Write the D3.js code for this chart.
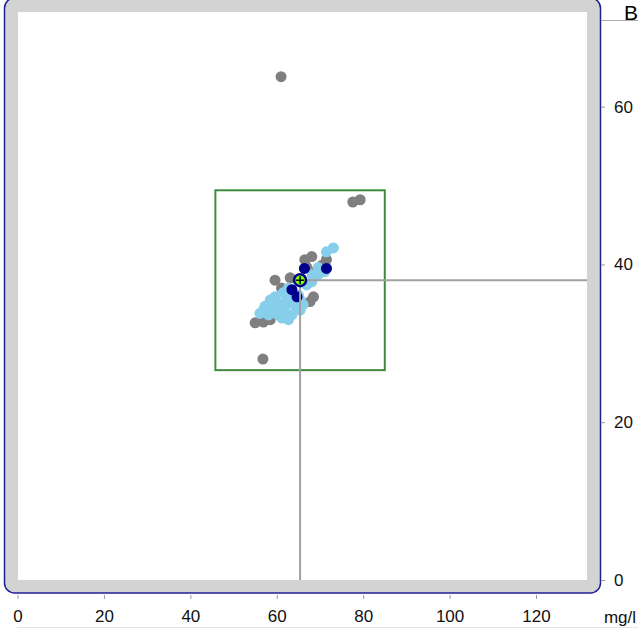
<!DOCTYPE html>
<html>
<head>
  <meta charset="UTF-8">
  <style>
    body { margin: 0; background: #fff; }
    svg { display: block; font-family: Arial, 'Liberation Sans', sans-serif; }
    .axis text { font-size: 17px; fill: #111; }
    .axis line { stroke: #999; }
  </style>
</head>
<body>
<svg></svg>
<script src="https://d3js.org/d3.v7.min.js"></script>
<script>
  let width = 638, height = 630;

  // ---- data (mg/l)
  const grayX = [61.0, 77.6, 79.3, 56.8, 55.0, 56.9, 58.5, 68.1, 71.5, 66.5, 69.3, 63.1, 59.6, 61.1, 67.7, 68.5, 66.9, 70.5];
  const grayY = [63.8, 47.9, 48.2, 28.0, 32.6, 32.7, 33.0, 41.0, 40.6, 40.6, 39.3, 38.3, 38.0, 37.0, 35.3, 35.9, 39.7, 39.9];

  const lightX = [73.1, 71.5, 71.1, 66.9, 68.1, 62.7, 61.5, 59.6, 58.5, 57.3, 60.3, 62.7, 61.9, 64.3, 56.9, 56.1, 58.1, 60.3, 63.5, 65.4, 66.1, 62.7, 65.0, 64.3, 61.1, 69.6,
                  58.9, 61.2, 63.8, 62.2, 65.4, 69.6, 68.2, 59.8];
  const lightY = [42.1, 41.6, 39.1, 37.4, 37.8, 37.0, 36.4, 35.9, 35.5, 34.7, 35.1, 35.3, 34.5, 34.7, 34.2, 33.8, 33.6, 33.6, 33.6, 34.2, 34.9, 33.0, 36.1, 35.7, 34.0, 38.7,
                  34.5, 33.2, 35.5, 36.0, 35.5, 39.6, 38.7, 34.2];

  const darkX = [66.4, 71.5, 63.5, 64.7];
  const darkY = [39.5, 39.5, 36.8, 35.9];

  const target = [65.4, 38.0];
  const boxX = [45.8, 85.0];
  const boxY = [26.6, 49.4];

  const xTicks = [0, 20, 40, 60, 80, 100, 120];
  const yTicks = [0, 20, 40, 60];
  const unit = "mg/l";
  const panel = "B";

  let svg = d3.select("svg").attr("width", width).attr("height", height);

  let x = d3.scaleLinear().domain([0, 131.8]).range([17.5, 587]);
  let y = d3.scaleLinear().domain([0, 72]).range([580, 12]);

  //------- frame
  svg.append("rect")
    .attr("x", 4.5).attr("y", -2).attr("width", 596).attr("height", 595)
    .attr("rx", 10)
    .attr("fill", "#d3d3d3").attr("stroke", "#1f1f9a").attr("stroke-width", 1.5);
  svg.append("rect")
    .attr("x", 18).attr("y", 12).attr("width", 569).attr("height", 568)
    .attr("fill", "#fff");

  // top-right line and panel letter
  svg.append("line").attr("x1", 601).attr("x2", 638).attr("y1", 20.5).attr("y2", 20.5)
    .attr("stroke", "#aaa");
  svg.append("text").attr("x", 624).attr("y", 20).attr("font-size", 21).attr("fill", "#000")
    .text(panel);

  //------- axes
  let ya = svg.append("g").attr("class", "axis")
    .attr("transform", "translate(601,0)")
    .call(d3.axisRight(y).tickValues(yTicks).tickSize(4).tickPadding(9));
  ya.select(".domain").remove();

  let xa = svg.append("g").attr("class", "axis")
    .attr("transform", "translate(0,595)")
    .call(d3.axisBottom(x).tickValues(xTicks).tickSize(4).tickPadding(11));
  xa.select(".domain").remove();

  svg.append("text").attr("x", 636).attr("y", 623).attr("text-anchor", "end")
    .attr("font-size", 17).attr("fill", "#111").text(unit);
  svg.append("line").attr("x1", 17).attr("x2", 638).attr("y1", 627.5).attr("y2", 627.5)
    .attr("stroke", "#e4e4e4");

  //------- acceptance box
  svg.append("rect")
    .attr("x", x(boxX[0])).attr("y", y(boxY[1]))
    .attr("width", x(boxX[1]) - x(boxX[0])).attr("height", y(boxY[0]) - y(boxY[1]))
    .attr("fill", "none").attr("stroke", "#3f8a3f").attr("stroke-width", 2);

  //------- points
  function dots(xs, ys, color) {
    svg.append("g").selectAll("circle")
      .data(xs.map((v, i) => [v, ys[i]]))
      .enter().append("circle")
      .attr("cx", d => x(d[0])).attr("cy", d => y(d[1]))
      .attr("r", 5.5).attr("fill", color);
  }
  dots(grayX, grayY, "#7f7f7f");
  dots(lightX, lightY, "#87ceeb");
  dots(darkX, darkY, "#00008b");

  //------- crosshair
  svg.append("line")
    .attr("x1", x(target[0])).attr("x2", x(target[0]))
    .attr("y1", y(target[1])).attr("y2", y(0))
    .attr("stroke", "#a0a0a0").attr("stroke-width", 2);
  svg.append("line")
    .attr("x1", x(target[0])).attr("x2", 587)
    .attr("y1", y(target[1])).attr("y2", y(target[1]))
    .attr("stroke", "#a0a0a0").attr("stroke-width", 2);

  let cx = x(target[0]), cy = y(target[1]);
  svg.append("circle").attr("cx", cx).attr("cy", cy).attr("r", 6)
    .attr("fill", "#7fff00").attr("stroke", "#00008b").attr("stroke-width", 2.5);
  svg.append("path")
    .attr("d", `M${cx - 4},${cy}H${cx + 4}M${cx},${cy - 4}V${cy + 4}`)
    .attr("stroke", "#000").attr("stroke-width", 1.5);
</script>
</body>
</html>
